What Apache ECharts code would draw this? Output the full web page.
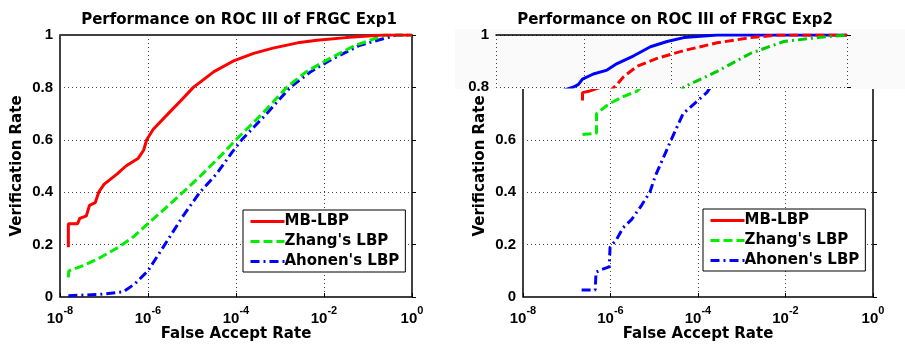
<!DOCTYPE html>
<html><head><meta charset="utf-8">
<script src="https://cdn.jsdelivr.net/npm/echarts@6/dist/echarts.min.js"></script>
<style>html,body{margin:0;padding:0;background:#fff}#c{width:905px;height:346px}</style>
</head><body><div id="c"></div>
<script>
// ---- data (x = log10 of False Accept Rate, y = Verification Rate) ----
const seriesNames = ['MB-LBP', "Zhang's LBP", "Ahonen's LBP"];
const titles = ['Performance on ROC III of FRGC Exp1', 'Performance on ROC III of FRGC Exp2'];
const xTickExps = [-8, -6, -4, -2, 0];
const yTicks = [0, 0.2, 0.4, 0.6, 0.8, 1];

// Exp1
const e1MbLogFar = [-7.81,-7.81,-7.6,-7.55,-7.4,-7.33,-7.2,-7.12,-7.0,-6.85,-6.7,-6.5,-6.22,-6.1,-6.03,-5.88,-5.54,-5.25,-4.97,-4.5,-4.07,-3.6,-3.16,-2.6,-2.16,-1.5,-0.66,0];
const e1MbVr     = [0.19,0.28,0.28,0.30,0.31,0.35,0.36,0.40,0.43,0.45,0.47,0.50,0.53,0.56,0.60,0.64,0.70,0.75,0.80,0.86,0.90,0.93,0.95,0.97,0.98,0.99,1.0,1.0];
const e1ZhLogFar = [-7.81,-7.8,-7.47,-7.09,-6.67,-6.33,-6.0,-5.73,-5.27,-4.82,-4.4,-4.0,-3.4,-2.85,-2.4,-1.98,-1.3,-0.6,0];
const e1ZhVr     = [0.075,0.10,0.12,0.15,0.19,0.23,0.28,0.32,0.39,0.46,0.53,0.60,0.70,0.80,0.86,0.90,0.96,1.0,1.0];
const e1AhLogFar = [-7.81,-7.09,-6.56,-6.3,-6.0,-5.58,-5.2,-4.82,-4.44,-4.1,-3.87,-3.3,-2.77,-2.3,-1.9,-1.2,-0.35,0];
const e1AhVr     = [0.005,0.01,0.02,0.05,0.10,0.21,0.31,0.40,0.47,0.55,0.60,0.70,0.80,0.86,0.90,0.96,1.0,1.0];

// Exp2
const e2MbLogFar = [-6.64,-6.64,-6.5,-6.23,-6.12,-6.03,-6.0,-5.78,-5.47,-5.24,-4.86,-4.48,-4.10,-3.72,-2.96,0];
const e2MbVr     = [0.75,0.78,0.785,0.80,0.81,0.83,0.835,0.85,0.865,0.89,0.92,0.955,0.975,0.99,1.0,1.0];
const e2ZhLogFar = [-6.64,-6.32,-6.32,-6.09,-6.0,-5.71,-5.4,-5.24,-5.09,-4.78,-4.33,-3.72,-2.96,-2.19,-1.55,0];
const e2ZhVr     = [0.62,0.625,0.70,0.73,0.74,0.765,0.785,0.81,0.84,0.88,0.91,0.94,0.97,0.99,1.0,1.0];
const e2AhLogFar = [-6.66,-6.35,-6.33,-6.20,-6.03,-6.01,-5.86,-5.71,-5.52,-5.29,-5.10,-4.98,-4.64,-4.34,-3.80,-3.72,-2.96,-2.19,-1.44,-0.67,0];
const e2AhVr     = [0.027,0.027,0.095,0.105,0.115,0.19,0.22,0.265,0.295,0.35,0.40,0.46,0.59,0.70,0.78,0.80,0.86,0.93,0.975,0.99,1.0];

// ---- build ----
const FONT = '"Liberation Sans", Arial, Helvetica, sans-serif';
const WFONT = '"DejaVu Sans", Verdana, sans-serif';
const pairs = (lx, y) => lx.map((e, i) => [e, y[i]]);
const styles = [
  { color: '#ff0000', type: 'solid' },
  { color: '#00ee00', type: [9, 4] },
  { color: '#0000ff', type: [9, 4, 2, 4] }
];
const stripStyles = [
  { color: '#0000ff', type: 'solid' },
  { color: '#ff0000', type: [9, 4] },
  { color: '#00cc00', type: [9, 4, 2, 4] }
];
const exp1 = [pairs(e1MbLogFar, e1MbVr), pairs(e1ZhLogFar, e1ZhVr), pairs(e1AhLogFar, e1AhVr)];
const exp2 = [pairs(e2MbLogFar, e2MbVr), pairs(e2ZhLogFar, e2ZhVr), pairs(e2AhLogFar, e2AhVr)];

const gridCommon = { containLabel: false, outerBoundsMode: 'none' };
const grids = [
  Object.assign({ left: 60, top: 35, width: 352, height: 262, show: true, borderColor: '#000', borderWidth: 1.5, backgroundColor: 'transparent' }, gridCommon),
  Object.assign({ left: 523, top: 35, width: 350, height: 262, show: true, borderColor: '#000', borderWidth: 1.5, backgroundColor: 'transparent' }, gridCommon),
  Object.assign({ left: 496, top: 35, width: 351, height: 52, z: 20 }, gridCommon)
];
const dotted = { color: '#444', type: [1, 3], width: 1 };

function xAxisDef(gi, showLabels, name) {
  return {
    type: 'value', gridIndex: gi, min: xTickExps[0], max: xTickExps[xTickExps.length - 1], interval: 2,
    position: gi === 2 ? 'top' : 'bottom', z: gi === 2 ? 20 : 0,
    axisLine: { show: gi === 2, lineStyle: { color: '#000', width: 1.5 } },
    axisTick: { show: gi !== 2, inside: true, length: 4, lineStyle: { color: '#000' } },
    splitLine: { show: true, lineStyle: dotted },
    axisLabel: {
      show: showLabels, margin: 8,
      formatter: v => '{b|10}{s|' + Math.round(v) + '}',
      rich: {
        b: { fontSize: 15, fontWeight: 'bold', fontFamily: FONT, color: '#000', verticalAlign: 'bottom' },
        s: { fontSize: 11, fontWeight: 'bold', fontFamily: FONT, color: '#000', verticalAlign: 'bottom', padding: [0, 0, 10, 0] }
      }
    },
    name: name, nameLocation: 'middle', nameGap: 30, nameMoveOverlap: false,
    nameTextStyle: { fontSize: 15, fontWeight: 'bold', fontFamily: WFONT, color: '#000' }
  };
}
function yAxisDef(gi, min, name, hideAbove) {
  return {
    type: 'value', gridIndex: gi, min: min, max: yTicks[yTicks.length - 1], interval: 0.2, z: gi === 2 ? 20 : 0,
    axisLine: { show: false },
    axisTick: { show: true, inside: true, length: 4, lineStyle: { color: '#000' } },
    splitLine: { show: true, lineStyle: dotted },
    axisLabel: { margin: 7, fontSize: 15, fontWeight: 'bold', fontFamily: FONT, color: '#000',
      formatter: v => (hideAbove !== undefined && v > hideAbove) ? '' : String(Math.round(v * 10) / 10) },
    name: name, nameLocation: 'middle', nameGap: 35, nameMoveOverlap: false,
    nameTextStyle: { fontSize: 15, fontWeight: 'bold', fontFamily: WFONT, color: '#000' }
  };
}

const series = [];
[exp1, exp2].forEach((set, gi) => {
  set.forEach((d, k) => {
    series.push({
      name: seriesNames[k], type: 'line', xAxisIndex: gi, yAxisIndex: gi, data: d,
      showSymbol: false, symbol: 'none', clip: true, z: 2 + (2 - k),
      lineStyle: { color: styles[k].color, type: styles[k].type, width: 3 },
      itemStyle: { color: styles[k].color }
    });
  });
});
// shifted top strip of the second panel (as in the reference image)
exp2.forEach((d, k) => {
  series.push({
    name: seriesNames[k] + ' ', type: 'line', xAxisIndex: 2, yAxisIndex: 2, data: d,
    showSymbol: false, symbol: 'none', clip: true, z: 30,
    lineStyle: { color: stripStyles[k].color, type: stripStyles[k].type, width: 3 },
    itemStyle: { color: stripStyles[k].color }
  });
});

const legendBase = {
  orient: 'vertical', data: seriesNames, backgroundColor: '#fff', borderColor: '#000', borderWidth: 1,
  padding: [4, 6, 3, 6], itemGap: 5, itemWidth: 34, itemHeight: 17, selectedMode: false, z: 40,
  itemStyle: { color: 'rgba(0,0,0,0)', borderWidth: 0, opacity: 0 },
  lineStyle: { width: 3 },
  textStyle: { fontSize: 15, fontWeight: 'bold', fontFamily: WFONT, color: '#000', padding: [0, 0, 0, -5] }
};

const option = {
  animation: false,
  backgroundColor: '#fff',
  title: [
    { text: titles[0], left: 234, top: 8, textAlign: 'center',
      textStyle: { fontSize: 15, fontWeight: 'bold', fontFamily: WFONT, color: '#000' } },
    { text: titles[1], left: 670, top: 8, textAlign: 'center',
      textStyle: { fontSize: 15, fontWeight: 'bold', fontFamily: WFONT, color: '#000' } }
  ],
  grid: grids,
  xAxis: [xAxisDef(0, true, 'False Accept Rate'), xAxisDef(1, true, 'False Accept Rate'), xAxisDef(2, false, '')],
  yAxis: [yAxisDef(0, 0, 'Verification Rate'), yAxisDef(1, 0, 'Verification Rate', 0.7), yAxisDef(2, 0.8, '')],
  legend: [
    Object.assign({}, legendBase, { left: 243, top: 210 }),
    Object.assign({}, legendBase, { left: 703, top: 209 })
  ],
  graphic: [
    { type: 'rect', shape: { x: 455, y: 29, width: 450, height: 60 }, style: { fill: '#fafafa' }, z: 10, silent: true }
  ],
  series: series
};
const chart = echarts.init(document.getElementById('c'), null, { renderer: 'canvas' });
chart.setOption(option);
</script></body></html>
